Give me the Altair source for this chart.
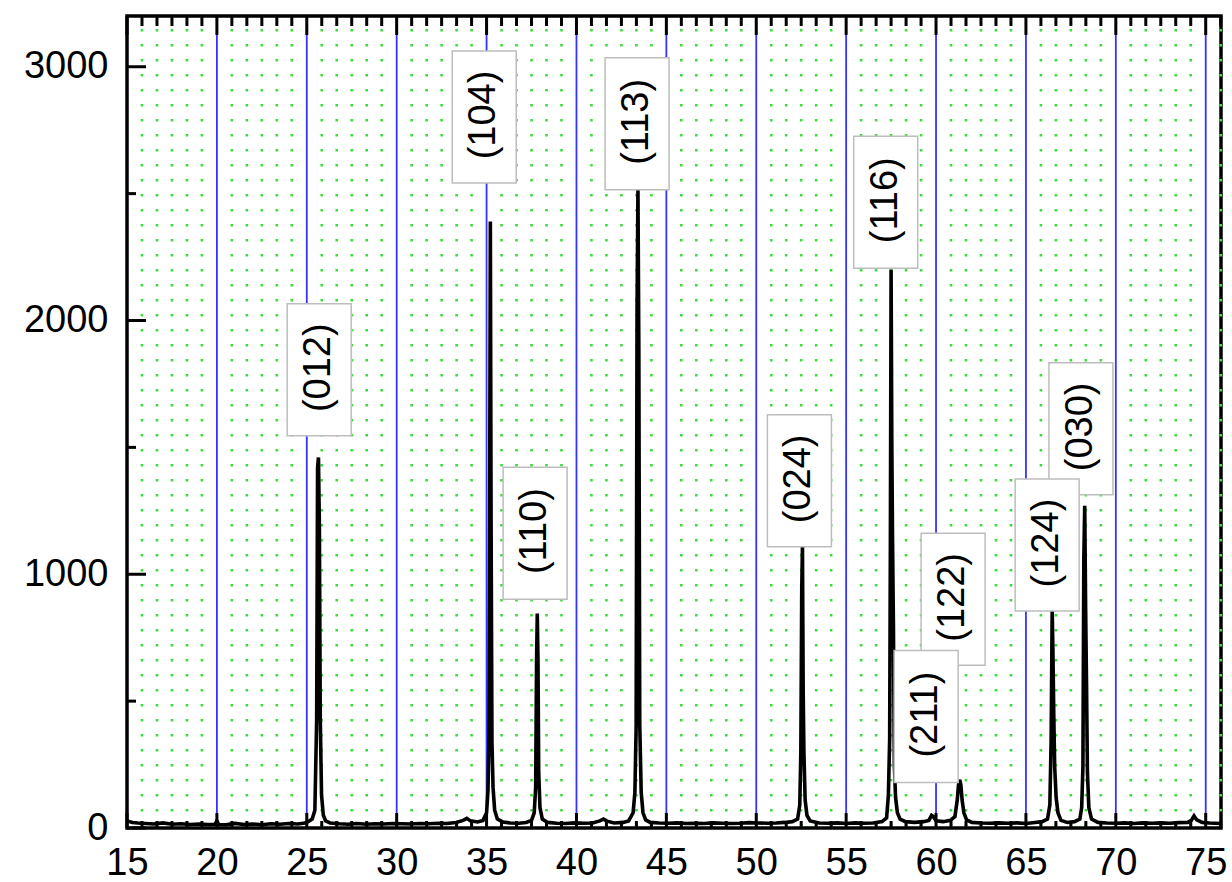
import altair as alt
import pandas as pd

# ---- data: XRD pattern (2theta, intensity) ----
two_theta = [15.0, 15.3, 15.6, 16.0, 16.5, 17.0, 17.5, 18.0, 18.5, 19.0, 19.5, 19.9, 20.0, 20.1, 20.5,
             21.0, 21.5, 22.0, 22.5, 23.0, 23.5, 24.0, 24.5, 24.9, 25.1, 25.3, 25.45, 25.55, 25.6, 25.65,
             25.7, 25.75, 25.82, 25.92, 26.05, 26.3, 26.8, 27.3, 27.8, 28.3, 28.8, 29.3, 29.8, 30.3, 30.8,
             31.3, 31.8, 32.3, 32.8, 33.3, 33.7, 33.9, 34.1, 34.5, 34.8, 35.0, 35.08, 35.13, 35.17, 35.21,
             35.25, 35.3, 35.36, 35.45, 35.6, 35.9, 36.3, 36.8, 37.2, 37.5, 37.65, 37.73, 37.78, 37.82, 37.86,
             37.9, 37.97, 38.1, 38.4, 38.9, 39.4, 39.9, 40.4, 40.9, 41.3, 41.5, 41.7, 42.1, 42.6, 42.9,
             43.15, 43.25, 43.32, 43.37, 43.42, 43.47, 43.52, 43.6, 43.7, 43.85, 44.1, 44.6, 45.1, 45.6, 46.1,
             46.6, 47.1, 47.6, 48.1, 48.6, 49.1, 49.6, 50.1, 50.6, 51.1, 51.6, 52.0, 52.3, 52.42, 52.48,
             52.53, 52.57, 52.61, 52.65, 52.72, 52.82, 53.0, 53.5, 54.0, 54.5, 55.0, 55.5, 56.0, 56.5, 57.0,
             57.25, 57.35, 57.42, 57.46, 57.5, 57.54, 57.58, 57.63, 57.68, 57.75, 57.85, 58.0, 58.3, 58.8, 59.3,
             59.6, 59.75, 59.85, 60.0, 60.4, 60.8, 61.05, 61.18, 61.25, 61.32, 61.38, 61.45, 61.55, 61.7, 62.0,
             62.5, 63.0, 63.5, 64.0, 64.5, 65.0, 65.5, 65.9, 66.2, 66.33, 66.4, 66.46, 66.5, 66.55, 66.6,
             66.68, 66.78, 66.95, 67.3, 67.7, 68.0, 68.1, 68.17, 68.22, 68.27, 68.32, 68.37, 68.42, 68.5, 68.65,
             69.0, 69.5, 70.0, 70.5, 71.0, 71.5, 72.0, 72.5, 73.0, 73.5, 74.0, 74.2, 74.35, 74.5, 74.8,
             75.2, 75.5, 75.85]
intensity = [28, 22, 20, 18, 16, 20, 15, 17, 14, 16, 14, 15, 28, 14, 13,
             18, 14, 16, 13, 17, 15, 18, 16, 20, 26, 35, 70, 430, 1420, 1460,
             1190, 430, 130, 50, 28, 20, 17, 15, 18, 15, 17, 16, 18, 17, 16,
             18, 17, 19, 18, 22, 30, 38, 28, 24, 30, 60, 150, 340, 1220, 2390,
             1230, 340, 160, 70, 35, 24, 20, 19, 22, 30, 60, 160, 650, 845, 660,
             220, 80, 35, 22, 19, 18, 20, 19, 20, 28, 35, 27, 20, 22, 28,
             60, 140, 400, 2050, 2520, 1880, 410, 140, 60, 32, 22, 20, 19, 20, 18,
             19, 18, 20, 19, 18, 19, 21, 20, 19, 20, 22, 25, 35, 90, 300,
             940, 1110, 540, 300, 110, 50, 28, 20, 19, 20, 18, 20, 19, 20, 25,
             40, 130, 350, 1120, 2200, 1520, 1140, 800, 250, 120, 60, 35, 25, 22, 25,
             30, 50, 45, 28, 25, 30, 45, 110, 170, 190, 170, 110, 60, 32, 22,
             20, 19, 20, 19, 20, 18, 22, 25, 35, 90, 340, 860, 700, 440, 240,
             120, 60, 30, 22, 25, 35, 80, 240, 1060, 1270, 870, 570, 220, 80, 35,
             22, 20, 19, 20, 18, 20, 19, 20, 19, 21, 22, 30, 48, 32, 22,
             20, 19, 18]

# ---- peak labels ----
label_text = ["(012)", "(104)", "(110)", "(113)", "(024)", "(116)", "(122)", "(211)", "(030)", "(124)"]
label_x = [25.69, 34.87, 37.70, 43.37, 52.40, 57.20, 60.95, 59.45, 68.06, 66.18]
label_y = [1806, 2802, 1162, 2775, 1368, 2466, 901, 439, 1573, 1115]

# ---- axis ticks ----
x_major = [15, 20, 25, 30, 35, 40, 45, 50, 55, 60, 65, 70, 75]
x_grid_major = [20, 25, 30, 35, 40, 45, 50, 55, 60, 65, 70, 75]
x_minor = [15 + i * 5 / 6 for i in range(1, 74) if i % 6 != 0]
y_major = [0, 1000, 2000, 3000]
y_minor = [500, 1500, 2500]

W, H = 1094, 812
FONT = "Liberation Sans"

xs = alt.Scale(domain=[15, 75.85], nice=False, zero=False)
ys = alt.Scale(domain=[0, 3200], nice=False, zero=False)

xaxis = alt.Axis(values=x_major, title=None, ticks=False, tickSize=0, domain=False,
                 grid=False, labelFontSize=38, labelFont=FONT, labelColor="black",
                 labelPadding=16, labelFlush=False, labelOverlap=False, format="d")
yaxis = alt.Axis(values=y_major, title=None, ticks=False, tickSize=0, domain=False,
                 grid=False, labelFontSize=38, labelFont=FONT, labelColor="black",
                 labelPadding=19, labelFlush=False, labelOverlap=False, format="d")

X = alt.X("x:Q", scale=xs, axis=xaxis)
Y = alt.Y("y:Q", scale=ys, axis=yaxis)

df = pd.DataFrame({"x": two_theta, "y": intensity})
lab = pd.DataFrame({"t": label_text, "x": label_x, "y": label_y})
xmaj = pd.DataFrame({"x": x_major})
xgrid = pd.DataFrame({"x": x_grid_major})
xmin = pd.DataFrame({"x": x_minor})
ymaj = pd.DataFrame({"y": y_major})
ymin = pd.DataFrame({"y": y_minor})

dots = alt.Chart(xmin).mark_rule(
    color="#3ddc3d", strokeWidth=2.6, strokeDash=[2.6, 12.4], strokeDashOffset=-13
).encode(x=X, y=alt.value(0), y2=alt.value(H))

blue = alt.Chart(xgrid).mark_rule(color="#3333ff", strokeWidth=1.8).encode(
    x=X, y=alt.value(0), y2=alt.value(H))

line = alt.Chart(df).mark_line(color="black", strokeWidth=3.6, clip=True).encode(x=X, y=Y)

top_maj = alt.Chart(xmaj).mark_rule(color="black", strokeWidth=3).encode(
    x=X, y=alt.value(0), y2=alt.value(19))
top_min = alt.Chart(xmin).mark_rule(color="black", strokeWidth=3).encode(
    x=X, y=alt.value(0), y2=alt.value(10))
bot_maj = alt.Chart(xmaj).mark_rule(color="black", strokeWidth=3).encode(
    x=X, y=alt.value(H), y2=alt.value(H - 15))
bot_min = alt.Chart(xmin).mark_rule(color="black", strokeWidth=3).encode(
    x=X, y=alt.value(H), y2=alt.value(H - 7))
left_maj = alt.Chart(ymaj).mark_rule(color="black", strokeWidth=3).encode(
    y=Y, x=alt.value(0), x2=alt.value(19))
left_min = alt.Chart(ymin).mark_rule(color="black", strokeWidth=3).encode(
    y=Y, x=alt.value(0), x2=alt.value(9))

boxes = alt.Chart(lab).mark_rect(
    width=64, height=132, fill="white", stroke="#bdbdbd", strokeWidth=1.5
).encode(x=X, y=Y)

texts = alt.Chart(lab).mark_text(
    angle=270, fontSize=38, font=FONT, color="black", align="center", baseline="middle", dx=2
).encode(x=X, y=Y, text="t:N")

label_layers = []
for i in range(len(label_text)):
    sub = lab.iloc[[i]]
    label_layers.append(boxes.properties(data=sub))
    label_layers.append(texts.properties(data=sub))

chart = alt.layer(
    dots, blue, line, top_maj, top_min, bot_maj, bot_min, left_maj, left_min, *label_layers
).properties(
    width=W, height=H,
    padding={"left": 127, "top": 16, "right": 10, "bottom": 54},
    autosize=alt.AutoSizeParams(type="none"),
    background="white",
).configure_view(stroke="black", strokeWidth=3.5)

chart.save("out.html", embed_options={"renderer": "svg", "actions": False})
